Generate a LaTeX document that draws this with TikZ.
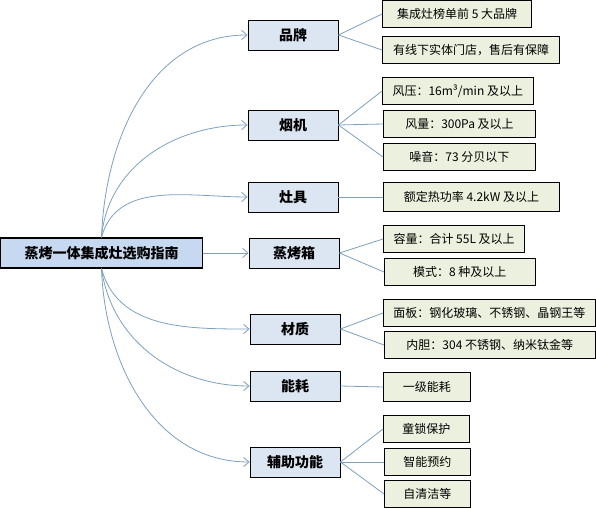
\documentclass[tikz,border=0pt]{standalone}
\usepackage{fontspec}
\setmainfont{Noto Sans CJK SC}
\usetikzlibrary{arrows.meta}
\definecolor{rootfill}{RGB}{198,217,240}
\definecolor{catfill}{RGB}{220,230,242}
\definecolor{leaffill}{RGB}{235,241,222}
\definecolor{link}{RGB}{125,160,190}

\tikzset{
  rootbox/.style={draw=black,fill=rootfill,line width=0.9pt,minimum width=151pt,
    minimum height=22.5pt,font=\fontsize{10.5}{12}\selectfont\bfseries},
  catbox/.style={draw=black,fill=catfill,line width=0.7pt,minimum width=67.5pt,
    minimum height=22.5pt,font=\fontsize{10.5}{12}\selectfont\bfseries},
  leafbox/.style={draw=black,fill=leaffill,line width=0.7pt,minimum height=20pt,
    anchor=west,font=\fontsize{9}{11}\selectfont},
  branch/.style={-{Straight Barb[length=4pt,width=7pt]},link,line width=0.6pt},
  twig/.style={link,line width=0.6pt}
}

\begin{document}
\begin{tikzpicture}[x=0.75pt,y=-0.75pt]
\useasboundingbox (0,0) rectangle (596,509);

% root
\node[rootbox] (guide) at (101.5,253) {蒸烤一体集成灶选购指南};

% categories
\node[catbox] (brand) at (293,35) {品牌};
\node[catbox] (hood)  at (293,125) {烟机};
\node[catbox] (stove) at (293,197) {灶具};
\node[catbox] (oven)  at (294,253) {蒸烤箱};
\node[catbox] (mat)   at (295,329) {材质};
\node[catbox] (power) at (295,386) {能耗};
\node[catbox] (aux)   at (295,462) {辅助功能};

% leaves
\node[leafbox,minimum width=112pt] (brandA) at (382,14) {集成灶榜单前 5 大品牌};
\node[leafbox,minimum width=133pt] (brandB) at (382,50) {有线下实体门店，售后有保障};
\node[leafbox,minimum width=113pt] (hoodA) at (382,91) {风压：16m³/min 及以上};
\node[leafbox,minimum width=114pt] (hoodB) at (383,124) {风量：300Pa 及以上};
\node[leafbox,minimum width=114pt] (hoodC) at (383,157) {噪音：73 分贝以下};
\node[leafbox,minimum width=132pt,minimum height=21.5pt] (stoveA) at (383,197) {额定热功率 4.2kW 及以上};
\node[leafbox,minimum width=106pt] (ovenA) at (383,239) {容量：合计 55L 及以上};
\node[leafbox,minimum width=113pt] (ovenB) at (384,272) {模式：8 种及以上};
\node[leafbox,minimum width=159pt] (matA) at (383,313) {面板：钢化玻璃、不锈钢、晶钢王等};
\node[leafbox,minimum width=158pt] (matB) at (384,345) {内胆：304 不锈钢、纳米钛金等};
\node[leafbox,minimum width=65pt,minimum height=21.5pt] (powerA) at (383,387) {一级能耗};
\node[leafbox,minimum width=64.5pt] (auxA) at (383,429) {童锁保护};
\node[leafbox,minimum width=64.5pt] (auxB) at (384,462) {智能预约};
\node[leafbox,minimum width=64.5pt] (auxC) at (384,494) {自清洁等};

% root to categories
\draw[branch] (guide.north) to[out=88,in=180] (brand.west);
\draw[branch] (guide.north) to[out=85,in=180] (hood.west);
\draw[branch] (guide.north) to[out=75,in=180] (stove.west);
\draw[branch] (guide.east) -- (oven.west);
\draw[branch] (guide.south) to[out=-75,in=180] (mat.west);
\draw[branch] (guide.south) to[out=-82,in=180] (power.west);
\draw[branch] (guide.south) to[out=-88,in=180] (aux.west);

% categories to leaves
\draw[twig] (brand.east) -- (brandA.west);
\draw[twig] (brand.east) -- (brandB.west);
\draw[twig] (hood.east) -- (hoodA.west);
\draw[twig] (hood.east) -- (hoodB.west);
\draw[twig] (hood.east) -- (hoodC.west);
\draw[twig] (stove.east) -- (stoveA.west);
\draw[twig] (oven.east) -- (ovenA.west);
\draw[twig] (oven.east) -- (ovenB.west);
\draw[twig] (mat.east) -- (matA.west);
\draw[twig] (mat.east) -- (matB.west);
\draw[twig] (power.east) -- (powerA.west);
\draw[twig] (aux.east) -- (auxA.west);
\draw[twig] (aux.east) -- (auxB.west);
\draw[twig] (aux.east) -- (auxC.west);
\end{tikzpicture}
\end{document}
